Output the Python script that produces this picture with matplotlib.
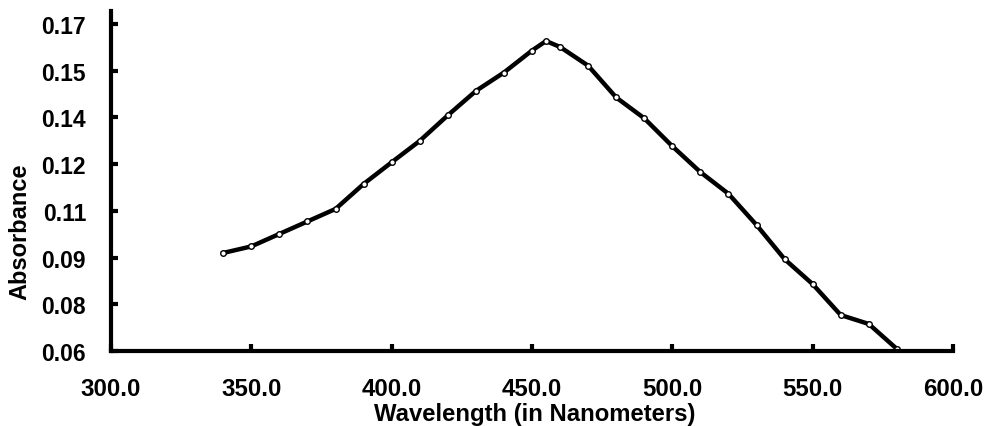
import numpy as np
import matplotlib
matplotlib.use("Agg")
import matplotlib.pyplot as plt

# Absorbance spectrum
wavelength = [340, 350, 360, 370, 380, 390, 400, 410, 420, 430, 440, 450, 455,
              460, 470, 480, 490, 500, 510, 520, 530, 540, 550, 560, 570, 580]
absorbance = [0.0930, 0.0952, 0.0994, 0.1036, 0.1078, 0.1162, 0.1235, 0.1307,
              0.1393, 0.1475, 0.1537, 0.1611, 0.1643, 0.1623, 0.1560, 0.1453,
              0.1383, 0.1289, 0.1202, 0.1129, 0.1024, 0.0909, 0.0825, 0.0721,
              0.0691, 0.0607]
x_ticks = [300, 350, 400, 450, 500, 550, 600]
y_ticks = list(np.linspace(0.06, 0.17, 8))

plt.rcParams["font.family"] = ["Liberation Sans", "DejaVu Sans"]
plt.rcParams["font.weight"] = "bold"

fig = plt.figure(figsize=(9.85, 4.27), dpi=100)
ax = fig.add_axes([0.1127, 0.1756, 0.8548, 0.7963])

ax.plot(wavelength, absorbance, color="black", lw=3.2, marker="o", ms=4,
        mfc="white", mec="black", mew=1.0, solid_joinstyle="round")

ax.set_xlim(300, 600)
ax.set_ylim(0.06, 0.1744)
ax.set_xticks(x_ticks)
ax.set_xticklabels([f"{v:.1f}" for v in x_ticks])
ax.set_yticks(y_ticks)
ax.set_yticklabels([f"{v:.2f}" for v in y_ticks])

for s in ("top", "right"):
    ax.spines[s].set_visible(False)
for s in ("left", "bottom"):
    ax.spines[s].set_linewidth(3)
ax.tick_params(direction="in", length=5, width=3)
ax.tick_params(axis="x", labelsize=17.3, pad=19)
ax.tick_params(axis="y", labelsize=16.5, pad=18)

ax.set_xlabel("Wavelength (in Nanometers)", fontsize=17.2, fontweight="bold")
ax.set_ylabel("Absorbance", fontsize=17, fontweight="bold")
ax.xaxis.set_label_coords(0.503, -0.15)
ax.yaxis.set_label_coords(-0.094, 0.353)

fig.savefig("out.png", dpi=100)
